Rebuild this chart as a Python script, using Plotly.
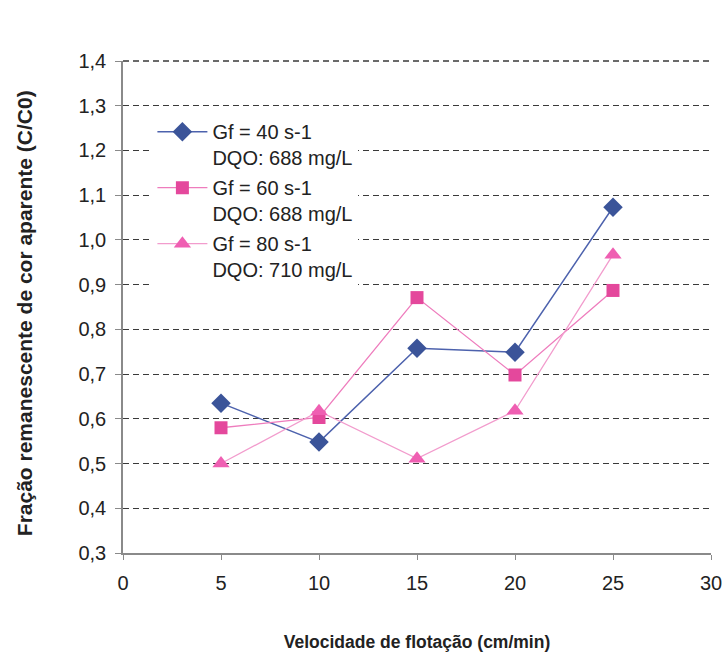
import plotly.graph_objects as go

# Flotation velocity (cm/min)
velocidade = [5, 10, 15, 20, 25]

# Remaining fraction of apparent colour (C/C0) for each flocculation gradient
gf40 = [0.635, 0.548, 0.758, 0.749, 1.073]
gf60 = [0.580, 0.603, 0.871, 0.698, 0.887]
gf80 = [0.500, 0.617, 0.511, 0.618, 0.967]

nomes = [
    "Gf = 40 s-1<br>DQO: 688 mg/L",
    "Gf = 60 s-1<br>DQO: 688 mg/L",
    "Gf = 80 s-1<br>DQO: 710 mg/L",
]

y_ticks = [0.3, 0.4, 0.5, 0.6, 0.7, 0.8, 0.9, 1.0, 1.1, 1.2, 1.3, 1.4]
x_ticks = [0, 5, 10, 15, 20, 25, 30]

FONT = "Liberation Sans, Arial, sans-serif"
TXT = "#222222"
GRID = "#3a3a3a"
DASH = "6px,4px"

fig = go.Figure()
fig.add_trace(go.Scatter(
    x=velocidade, y=gf40, name=nomes[0], mode="lines+markers",
    line=dict(color="#4d62ad", width=1.5),
    marker=dict(symbol="diamond", size=15, color="#3b5499"),
    legendgroup="a",
))
fig.add_trace(go.Scatter(
    x=velocidade, y=gf60, name=nomes[1], mode="lines+markers",
    line=dict(color="#ee7cbd", width=1.3),
    marker=dict(symbol="square", size=13, color="#e4489c"),
    legendgroup="b",
))
fig.add_trace(go.Scatter(
    x=velocidade, y=gf80, name=nomes[2], mode="lines+markers",
    line=dict(color="#f29ccd", width=1.3),
    marker=dict(symbol="triangle-up", size=15, color="#ef5fb2"),
    legendgroup="c",
))

# the top gridline lies on the upper edge of the plot area; draw it unclipped
fig.add_shape(
    type="line", xref="paper", yref="paper", x0=0, x1=1, y0=1, y1=1,
    line=dict(color=GRID, width=1.4, dash=DASH),
)

fig.update_layout(
    width=725, height=654,
    margin=dict(l=123, r=14, t=61, b=101),
    paper_bgcolor="white", plot_bgcolor="white",
    separators=",.",
    font=dict(family=FONT, size=19, color=TXT),
    showlegend=True,
    legend=dict(
        x=0.05, y=0.896, xanchor="left", yanchor="top",
        bgcolor="white", borderwidth=0,
        font=dict(family=FONT, size=20, color=TXT),
        valign="top", tracegroupgap=1,
        itemwidth=50,
    ),
    annotations=[
        dict(
            text="<b>Fração remanescente de cor aparente (C/C0)</b>",
            xref="paper", yref="paper", x=-0.167, y=0.487,
            xanchor="center", yanchor="middle", textangle=-90,
            showarrow=False, font=dict(family=FONT, size=21, color=TXT),
        ),
    ],
)

fig.update_xaxes(
    range=[0, 30], tickvals=x_ticks, ticktext=[str(v) for v in x_ticks],
    showgrid=False, zeroline=False, automargin=False,
    showline=True, linecolor="#8a8a8a", linewidth=1.5,
    ticks="outside", ticklen=5, tickcolor="#8a8a8a", ticklabelstandoff=6,
    tickfont=dict(family=FONT, size=20, color=TXT),
    title=dict(text="<b>Velocidade de flotação (cm/min)</b>",
               font=dict(family=FONT, size=17.5, color=TXT), standoff=43),
)
fig.update_yaxes(
    range=[y_ticks[0], y_ticks[-1]], tickvals=y_ticks, tickformat=".1f",
    showgrid=True, gridcolor=GRID, gridwidth=1.4, griddash=DASH,
    zeroline=False, automargin=False,
    showline=True, linecolor="#8a8a8a", linewidth=1.5,
    ticks="outside", ticklen=6, tickcolor="#8a8a8a", ticklabelstandoff=5,
    tickfont=dict(family=FONT, size=20, color=TXT),
)

fig.write_html("out.html")
